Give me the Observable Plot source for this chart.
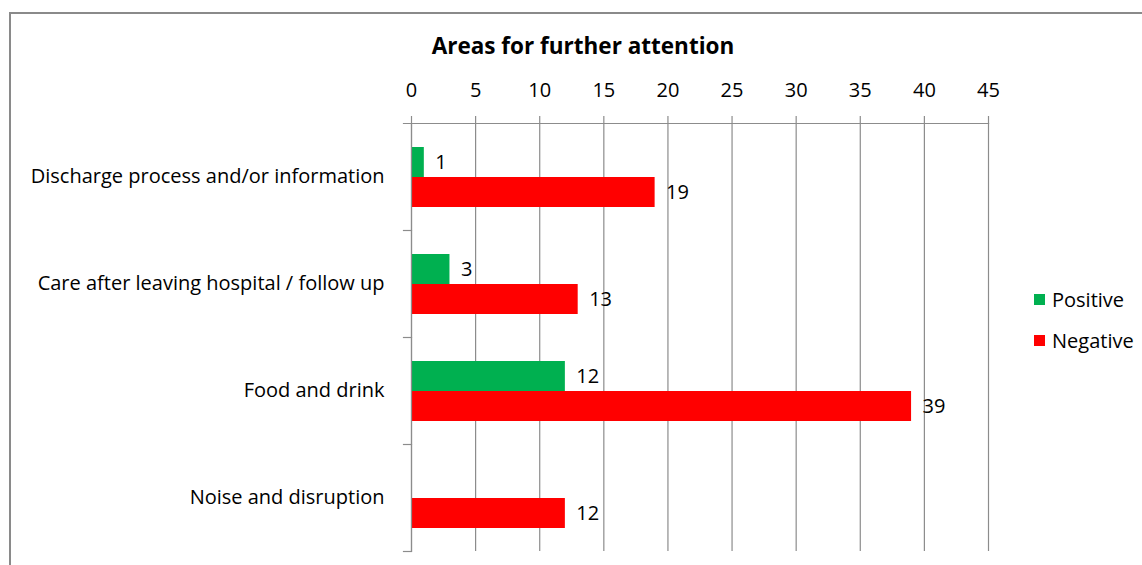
<!DOCTYPE html>
<html>
<head>
<meta charset="utf-8">
<script src="https://cdn.jsdelivr.net/npm/d3@7"></script>
<script src="https://cdn.jsdelivr.net/npm/@observablehq/plot@0.6"></script>
<style>
  html, body { margin: 0; padding: 0; background: #fff; }
  #wrap { position: relative; width: 1142px; height: 565px; overflow: hidden; font-family: "Open Sans", sans-serif; color: #000; }
  #border { position: absolute; left: 9px; top: 12px; width: 1200px; height: 600px; border-left: 2px solid #8a8a8a; border-top: 2px solid #8a8a8a; }
  #title { position: absolute; left: 0; width: 1166px; top: 31px; text-align: center; font-weight: bold; font-size: 22.5px; line-height: 30px; }
  #chart { position: absolute; left: 0; top: 0; }
  #legend { position: absolute; left: 1034px; top: 285px; font-size: 20px; }
  .item { display: flex; align-items: center; height: 28px; margin-bottom: 13px; }
  .sw { width: 11px; height: 11px; margin-right: 7px; }
</style>
</head>
<body>
<div id="wrap">
  <div id="border"></div>
  <div id="title">Areas for further attention</div>
  <div id="chart"></div>
  <div id="legend"></div>
</div>
<script>
const categories = [
  "Discharge process and/or information",
  "Care after leaving hospital / follow up",
  "Food and drink",
  "Noise and disruption"
];
const seriesNames = ["Positive", "Negative"];
const seriesColors = ["#00B050", "#FF0000"];
const positive = [1, 3, 12, null];
const negative = [19, 13, 39, 12];
const xTicks = [0, 5, 10, 15, 20, 25, 30, 35, 40, 45];

const rows = [];
categories.forEach((c, i) => {
  rows.push({category: c, series: "Positive", value: positive[i]});
  rows.push({category: c, series: "Negative", value: negative[i]});
});

const W = 1142, H = 565;
const mL = 411, mR = 154, mT = 121, mB = 13;
const plotW = W - mL - mR;
const grid = "#8c8c8c";
const FS = 20;

const chart = Plot.plot({
  width: W,
  height: H,
  marginTop: mT,
  marginLeft: mL,
  marginRight: mR,
  marginBottom: mB,
  style: {fontFamily: "'Open Sans', sans-serif", fontSize: FS + "px", color: "#000", background: "transparent"},
  x: {domain: [0, 45], axis: null},
  y: {domain: seriesNames, paddingInner: 0, paddingOuter: 0.74, axis: null},
  fy: {domain: categories, padding: 0, axis: null},
  color: {domain: seriesNames, range: seriesColors},
  marks: [
    Plot.gridX(xTicks, {stroke: grid, strokeOpacity: 1, strokeWidth: 1.2}),
    Plot.barX(rows.filter(d => d.value != null), {x: "value", y: "series", fy: "category", fill: "series"}),
    Plot.text(rows.filter(d => d.value != null), {x: "value", y: "series", fy: "category", text: d => String(d.value), textAnchor: "start", dx: 11, fill: "#000", fontSize: FS}),
    Plot.frame({anchor: "left", stroke: grid, strokeWidth: 1.2, facet: "super"}),
    Plot.frame({anchor: "top", stroke: grid, strokeWidth: 1.2, insetLeft: -8, facet: "super"}),
    Plot.frame({anchor: "bottom", stroke: grid, strokeWidth: 1.2, insetLeft: -8, insetRight: plotW}),
    Plot.axisX(xTicks, {anchor: "top", tickSize: 8, tickPadding: 19, stroke: grid, strokeWidth: 1.2, fontSize: FS, fill: "#000", label: null}),
    Plot.axisFy({anchor: "left", tickSize: 0, tickPadding: 27, fontSize: FS, fill: "#000", label: null})
  ]
});
document.getElementById("chart").appendChild(chart);

const legend = d3.select("#legend");
seriesNames.forEach((s, i) => {
  const it = legend.append("div").attr("class", "item");
  it.append("div").attr("class", "sw").style("background", seriesColors[i]);
  it.append("span").text(s);
});
</script>
</body>
</html>
